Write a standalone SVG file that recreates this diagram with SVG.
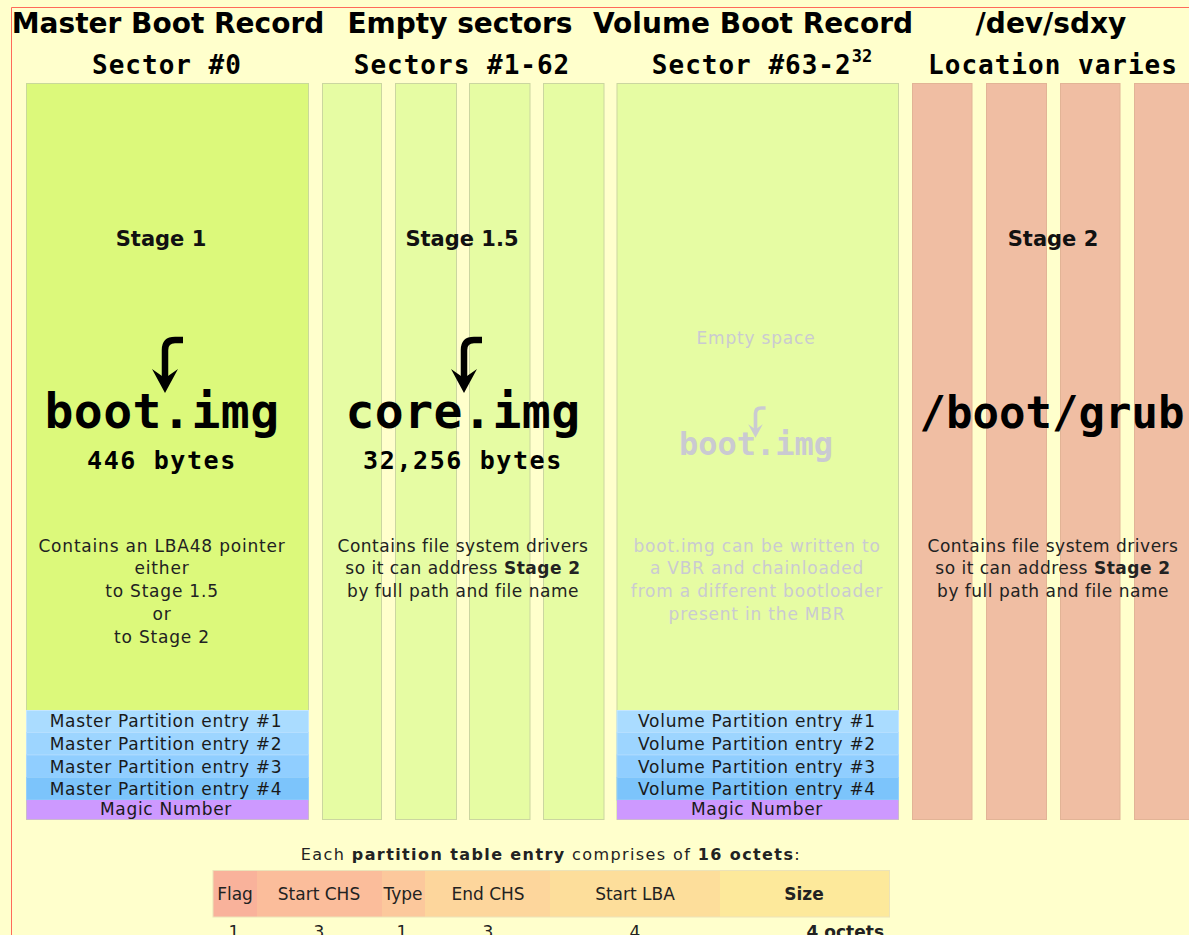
<svg xmlns="http://www.w3.org/2000/svg" xmlns:xlink="http://www.w3.org/1999/xlink" width="1189" height="935" viewBox="0 0 1189 935">
<style>
.title{font-family:"DejaVu Sans",sans-serif;font-weight:bold;font-size:28px;fill:#000;text-anchor:middle}
.sub{font-family:"DejaVu Sans Mono",monospace;font-weight:bold;font-size:26px;letter-spacing:1px;fill:#000;text-anchor:middle}
.stage{font-family:"DejaVu Sans",sans-serif;font-weight:bold;font-size:21px;fill:#111;text-anchor:middle}
.img{font-family:"DejaVu Sans Mono",monospace;font-weight:bold;font-size:48px;letter-spacing:0.5px;fill:#000;text-anchor:middle}
.bytes{font-family:"DejaVu Sans Mono",monospace;font-weight:bold;font-size:25px;letter-spacing:1.6px;fill:#000;text-anchor:middle}
.body{font-family:"DejaVu Sans",sans-serif;font-size:17px;letter-spacing:0.8px;fill:#222;text-anchor:middle}
.ghost{fill:#cacad2}
.pe{font-family:"DejaVu Sans",sans-serif;font-size:17px;letter-spacing:0.7px;fill:#1a1a1a;text-anchor:middle}
.tb{font-family:"DejaVu Sans",sans-serif;font-size:17px;fill:#222;text-anchor:middle}
.b{font-weight:bold}
.mbr{fill:#dcf97b;stroke:#c9d99a;stroke-width:1}
.es{fill:#e6fca3;stroke:#cbd6a0;stroke-width:1}
.s2{fill:#f0bea3;stroke:#e2b496;stroke-width:1}
</style>
<defs>
<g id="arrow">
<path d="M18,0 H10 Q0,0 0,10 V42" fill="none" stroke="currentColor" stroke-width="6.5"/>
<polygon points="-13,29 -3,36 3,36 13,29 0,53" fill="currentColor"/>
</g>
</defs>
<rect x="0" y="0" width="1189" height="935" fill="#ffffcc"/>
<path d="M11.5,935 V7.5 H1189" fill="none" stroke="#ff6a5a" stroke-width="1"/>

<g id="headers">
<text class="title" x="168" y="33">Master Boot Record</text>
<text class="title" x="460" y="33">Empty sectors</text>
<text class="title" x="753" y="33">Volume Boot Record</text>
<text class="title" x="1051" y="33">/dev/sdxy</text>
<text class="sub" x="167" y="74">Sector #0</text>
<text class="sub" x="462" y="74">Sectors #1-62</text>
<text class="sub" x="762" y="74">Sector #63-2<tspan style="font-size:17px;letter-spacing:0" dy="-12">32</tspan></text>
<text class="sub" x="1053" y="74">Location varies</text>
</g>

<g id="mbr">
<rect class="mbr" x="26.5" y="83.5" width="282" height="736"/>
<text class="stage" x="161" y="246">Stage 1</text>
<text class="img" x="162" y="428">boot.img</text>
<text class="bytes" x="162" y="469">446 bytes</text>
<text class="body" x="162" y="552">Contains an LBA48 pointer</text>
<text class="body" x="162" y="574">either</text>
<text class="body" x="162" y="597">to Stage 1.5</text>
<text class="body" x="162" y="620">or</text>
<text class="body" x="162" y="643">to Stage 2</text>
<rect x="26.5" y="710.5" width="282" height="22" fill="#aadcff" stroke="#c4e6ff" stroke-width="1"/>
<rect x="26.5" y="732.5" width="282" height="22.5" fill="#9dd5ff" stroke="#b6dfff" stroke-width="1"/>
<rect x="26.5" y="755" width="282" height="22.5" fill="#90ceff" stroke="#a8d8ff" stroke-width="1"/>
<rect x="26.5" y="777.5" width="282" height="22.5" fill="#7cc4fb" stroke="#94cffb" stroke-width="1"/>
<rect x="26.5" y="800" width="282" height="19.5" fill="#cd99ff"/>
<text class="pe" x="166" y="727">Master Partition entry #1</text>
<text class="pe" x="166" y="750">Master Partition entry #2</text>
<text class="pe" x="166" y="773">Master Partition entry #3</text>
<text class="pe" x="166" y="795">Master Partition entry #4</text>
<text class="pe" x="166" y="815">Magic Number</text>
</g>

<g id="empty-sectors">
<rect class="es" x="322.5" y="83.5" width="59" height="736"/>
<rect class="es" x="395.5" y="83.5" width="61" height="736"/>
<rect class="es" x="469.5" y="83.5" width="60.5" height="736"/>
<rect class="es" x="543.5" y="83.5" width="60.5" height="736"/>
<text class="stage" x="462" y="246">Stage 1.5</text>
<text class="img" x="463" y="428">core.img</text>
<text class="bytes" x="463" y="469">32,256 bytes</text>
<text class="body" x="463" y="552" style="letter-spacing:0.5px">Contains file system drivers</text>
<text class="body" x="463" y="574" style="letter-spacing:0.5px">so it can address <tspan class="b">Stage 2</tspan></text>
<text class="body" x="463" y="597" style="letter-spacing:0.5px">by full path and file name</text>
</g>

<g id="vbr">
<rect class="es" x="617" y="83.5" width="281.5" height="736"/>
<text class="body ghost" x="756" y="344">Empty space</text>
<text class="img ghost" x="756" y="455" style="font-size:32px;letter-spacing:0">boot.img</text>
<text class="body ghost" x="757" y="552">boot.img can be written to</text>
<text class="body ghost" x="757" y="574">a VBR and chainloaded</text>
<text class="body ghost" x="757" y="597">from a different bootloader</text>
<text class="body ghost" x="757" y="620">present in the MBR</text>
<rect x="617" y="710.5" width="281.5" height="22" fill="#aadcff" stroke="#c4e6ff" stroke-width="1"/>
<rect x="617" y="732.5" width="281.5" height="22.5" fill="#9dd5ff" stroke="#b6dfff" stroke-width="1"/>
<rect x="617" y="755" width="281.5" height="22.5" fill="#90ceff" stroke="#a8d8ff" stroke-width="1"/>
<rect x="617" y="777.5" width="281.5" height="22.5" fill="#7cc4fb" stroke="#94cffb" stroke-width="1"/>
<rect x="617" y="800" width="281.5" height="19.5" fill="#cd99ff"/>
<text class="pe" x="757" y="727">Volume Partition entry #1</text>
<text class="pe" x="757" y="750">Volume Partition entry #2</text>
<text class="pe" x="757" y="773">Volume Partition entry #3</text>
<text class="pe" x="757" y="795">Volume Partition entry #4</text>
<text class="pe" x="757" y="815">Magic Number</text>
</g>

<g id="stage2">
<rect class="s2" x="912.5" y="83.5" width="59.5" height="736"/>
<rect class="s2" x="986.5" y="83.5" width="60" height="736"/>
<rect class="s2" x="1060.5" y="83.5" width="59.5" height="736"/>
<rect class="s2" x="1134.5" y="83.5" width="60" height="736"/>
<text class="stage" x="1053" y="246">Stage 2</text>
<text class="img" x="1052" y="428" style="font-size:44px;letter-spacing:0">/boot/grub</text>
<text class="body" x="1053" y="552" style="letter-spacing:0.5px">Contains file system drivers</text>
<text class="body" x="1053" y="574" style="letter-spacing:0.5px">so it can address <tspan class="b">Stage 2</tspan></text>
<text class="body" x="1053" y="597" style="letter-spacing:0.5px">by full path and file name</text>
</g>

<g id="connectors">
<use xlink:href="#arrow" transform="translate(165,340)" color="#000"/>
<use xlink:href="#arrow" transform="translate(464,340)" color="#000"/>
<use xlink:href="#arrow" transform="translate(755.5,408) scale(0.56)" color="#cacad2"/>
</g>

<g id="entry-table">
<text class="tb" x="551" y="860" style="font-size:16px;letter-spacing:1.4px">Each <tspan class="b">partition table entry</tspan> comprises of <tspan class="b">16 octets</tspan>:</text>
<rect x="213" y="870.5" width="44" height="46.5" fill="#f9b29b"/>
<rect x="257" y="870.5" width="125" height="46.5" fill="#fbbd9b"/>
<rect x="382" y="870.5" width="43" height="46.5" fill="#fcc89c"/>
<rect x="425" y="870.5" width="125" height="46.5" fill="#fdd69c"/>
<rect x="550" y="870.5" width="170" height="46.5" fill="#fdde9b"/>
<rect x="720" y="870.5" width="169.5" height="46.5" fill="#fde99b"/>
<rect x="213" y="870.5" width="676.5" height="46.5" fill="none" stroke="#ece3b8" stroke-width="1"/>
<text class="tb" x="235" y="900">Flag</text>
<text class="tb" x="319" y="900">Start CHS</text>
<text class="tb" x="403" y="900">Type</text>
<text class="tb" x="488" y="900">End CHS</text>
<text class="tb" x="635" y="900">Start LBA</text>
<text class="tb b" x="804" y="900">Size</text>
<text class="tb" x="234" y="938">1</text>
<text class="tb" x="319" y="938">3</text>
<text class="tb" x="402" y="938">1</text>
<text class="tb" x="488" y="938">3</text>
<text class="tb" x="635" y="938">4</text>
<text class="tb b" x="884" y="938" style="text-anchor:end">4 octets</text>
</g>
</svg>
